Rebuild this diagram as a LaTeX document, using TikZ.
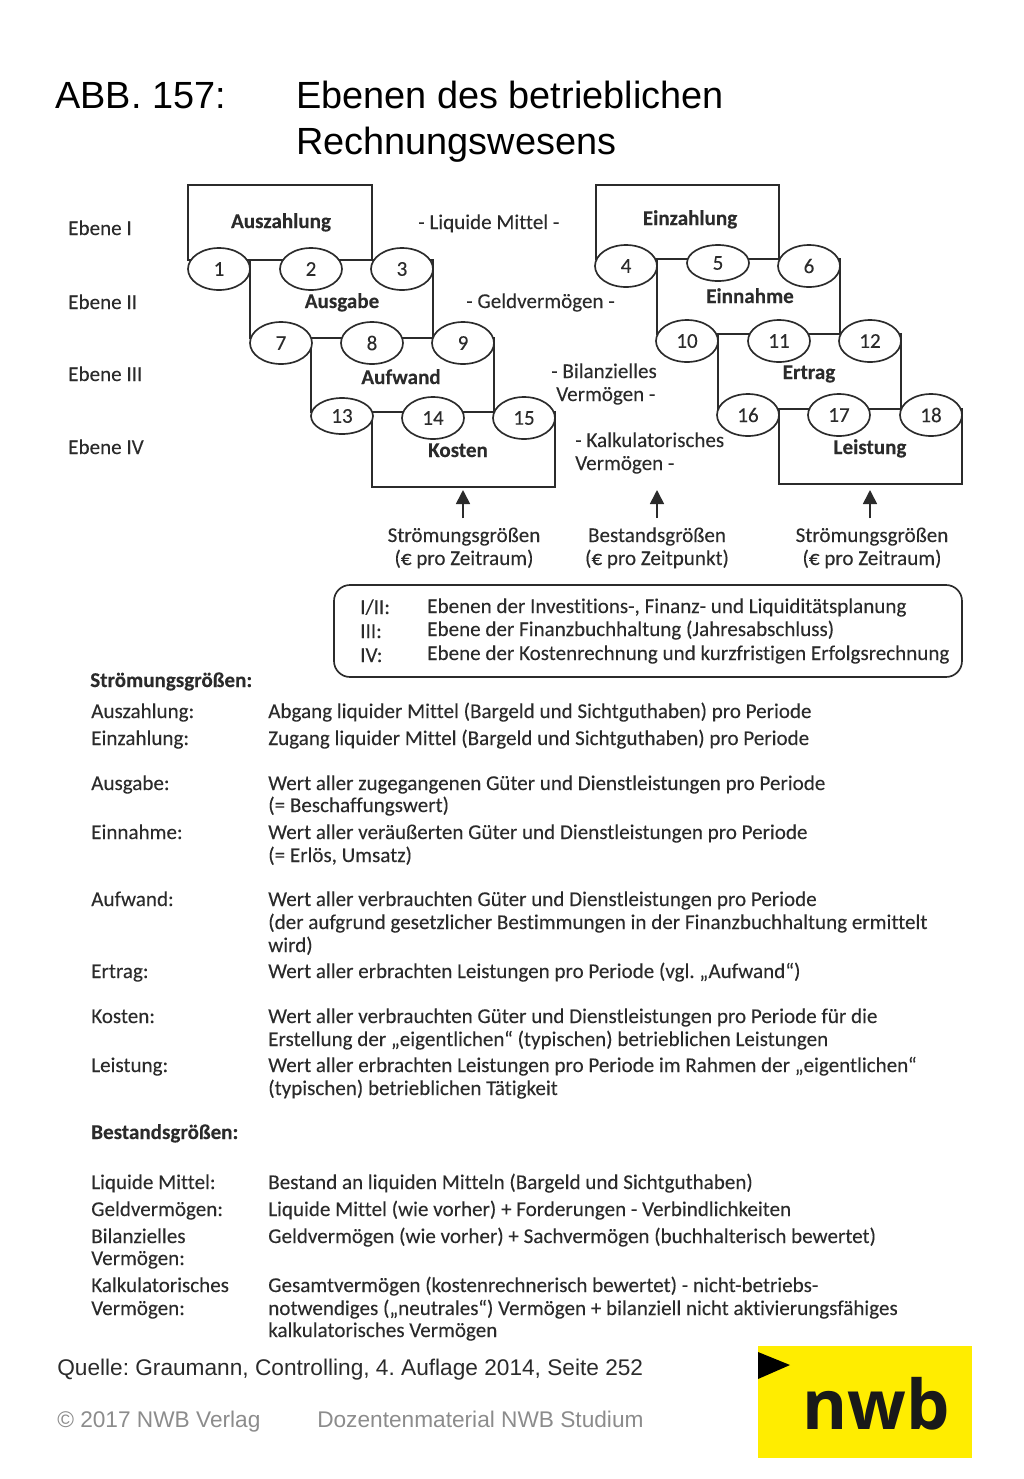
\documentclass[tikz,border=0pt]{standalone}
\usepackage{fontspec}
\setmainfont{Carlito}[Ligatures=NoCommon,FakeBold=0.12]
\newfontfamily\lib{Liberation Sans}
\newfontfamily\logofont{Open Sans}
\usetikzlibrary{fit,arrows.meta,shapes.geometric}
\definecolor{ink}{HTML}{2B2B2B}
\definecolor{grayfoot}{HTML}{8C8C8C}
\definecolor{nwbyellow}{HTML}{FFED00}
\newcounter{tcnt}
\tikzset{
  x=.75pt,y=-.75pt,
  wire/.style={draw=ink,line width=1.25pt},
  block/.style={wire,inner sep=0pt,rectangle},
  oval/.style={wire,ellipse,fill=white,inner sep=0pt,minimum width=46.5pt,minimum height=31.5pt,text=ink,font=\fontsize{15.8}{18}\selectfont},
  ovals/.style={oval,minimum height=27pt},
  txt/.style={anchor=base west,inner sep=0pt,text=ink,font=\fontsize{15.8}{18}\selectfont},
  mid/.style={anchor=base,inner sep=0pt,text=ink,font=\fontsize{15.8}{18}\selectfont},
  midb/.style={mid,font=\fontsize{15.8}{18}\selectfont\bfseries},
  arr/.style={draw=ink,line width=1.25pt,-{Triangle[length=10.5pt,width=10.5pt]}},
}
\newcommand{\tx}[3]{\stepcounter{tcnt}\node[txt] (t\arabic{tcnt}) at (#1,#2+1) {#3};}
\newcommand{\txb}[3]{\stepcounter{tcnt}\node[txt,font=\fontsize{15.8}{18}\selectfont\bfseries] (t\arabic{tcnt}) at (#1,#2+1) {#3};}
\begin{document}
\frenchspacing
\begin{tikzpicture}
\useasboundingbox (0,0) rectangle (1024,1479);
% title
\node[txt,font=\lib\fontsize{28.4}{32}\selectfont,text=black] (title1) at (55,108) {ABB. 157:};
\node[txt,font=\lib\fontsize{28.4}{32}\selectfont,text=black] (title2) at (296,108) {Ebenen des betrieblichen};
\node[txt,font=\lib\fontsize{28.4}{32}\selectfont,text=black] (title3) at (296,154) {Rechnungswesens};
% blocks
\node[block,fit={(188,185)(372,260)}] (bAus) {};
\node[block,fit={(250,260)(433,338)}] (bAusg) {};
\node[block,fit={(311,338)(494,412)}] (bAuf) {};
\node[block,fit={(372,412)(555,487)}] (bKos) {};
\node[block,fit={(596,185)(779,259)}] (bEin) {};
\node[block,fit={(657,259)(840,334)}] (bEinn) {};
\node[block,fit={(718,334)(901,409)}] (bErt) {};
\node[block,fit={(779,409)(962,484)}] (bLei) {};
% ovals
\node[oval] (n1) at (219,269) {1};
\node[oval] (n2) at (311,269) {2};
\node[oval] (n3) at (402,269) {3};
\node[oval] (n7) at (281,343) {7};
\node[oval] (n8) at (372,343) {8};
\node[oval] (n9) at (463,343) {9};
\node[ovals] (n13) at (342,416) {13};
\node[oval] (n14) at (433,418) {14};
\node[oval] (n15) at (524,418) {15};
\node[oval] (n4) at (626,266) {4};
\node[ovals] (n5) at (718,263) {5};
\node[oval] (n6) at (809,266) {6};
\node[oval] (n10) at (687,341) {10};
\node[oval] (n11) at (779,341) {11};
\node[oval] (n12) at (870,341) {12};
\node[oval] (n16) at (748,415) {16};
\node[oval] (n17) at (839,415) {17};
\node[oval] (n18) at (931,415) {18};
% block labels
\node[midb] (lAus) at (281,228) {Auszahlung};
\node[midb] (lAusg) at (342,308) {Ausgabe};
\node[midb] (lAuf) at (401,384) {Aufwand};
\node[midb] (lKos) at (458,457) {Kosten};
\node[midb] (lEin) at (690,225) {Einzahlung};
\node[midb] (lEinn) at (750,303) {Einnahme};
\node[midb] (lErt) at (809,379) {Ertrag};
\node[midb] (lLei) at (870,454) {Leistung};
% levels
\tx{68}{234}{Ebene I}
\tx{68}{308}{Ebene II}
\tx{68}{380}{Ebene III}
\tx{68}{453}{Ebene IV}
% stock labels
\tx{418}{228}{- Liquide Mittel -}
\tx{466}{307}{- Geldvermögen -}
\tx{551}{377}{- Bilanzielles}
\tx{556}{400}{Vermögen -}
\tx{575}{446}{- Kalkulatorisches}
\tx{575}{469}{Vermögen -}
% bottom labels and arrows
\node[mid] (s1) at (464,542) {Strömungsgrößen};
\node[mid] (s1b) at (464,565) {(€ pro Zeitraum)};
\node[mid] (s2) at (657,542) {Bestandsgrößen};
\node[mid] (s2b) at (657,565) {(€ pro Zeitpunkt)};
\node[mid] (s3) at (872,542) {Strömungsgrößen};
\node[mid] (s3b) at (872,565) {(€ pro Zeitraum)};
\coordinate (a1) at (463,490);
\coordinate (a2) at (657,490);
\coordinate (a3) at (870,490);
\draw[arr] (a1 |- s1.north) ++(0,-9) -- (a1);
\draw[arr] (a2 |- s2.north) ++(0,-9) -- (a2);
\draw[arr] (a3 |- s3.north) ++(0,-9) -- (a3);
% legend box
\node[wire,rectangle,rounded corners=12pt,inner sep=0pt,fit={(334,585)(962,677)}] (legend) {};
\tx{360}{613}{I/II:}
\tx{360}{637}{III:}
\tx{360}{661}{IV:}
\tx{427}{612}{Ebenen der Investitions-, Finanz- und Liquiditätsplanung}
\tx{427}{635}{Ebene der Finanzbuchhaltung (Jahresabschluss)}
\tx{427}{659}{Ebene der Kostenrechnung und kurzfristigen Erfolgsrechnung}
% definitions
\txb{90}{686}{Strömungsgrößen:}
\tx{91}{717}{Auszahlung:}
\tx{268}{717}{Abgang liquider Mittel (Bargeld und Sichtguthaben) pro Periode}
\tx{91}{744}{Einzahlung:}
\tx{268}{744}{Zugang liquider Mittel (Bargeld und Sichtguthaben) pro Periode}
\tx{91}{789}{Ausgabe:}
\tx{268}{789}{Wert aller zugegangenen Güter und Dienstleistungen pro Periode}
\tx{268}{811}{(= Beschaffungswert)}
\tx{91}{838}{Einnahme:}
\tx{268}{838}{Wert aller veräußerten Güter und Dienstleistungen pro Periode}
\tx{268}{861}{(= Erlös, Umsatz)}
\tx{91}{905}{Aufwand:}
\tx{268}{905}{Wert aller verbrauchten Güter und Dienstleistungen pro Periode}
\tx{268}{928}{(der aufgrund gesetzlicher Bestimmungen in der Finanzbuchhaltung ermittelt}
\tx{268}{951}{wird)}
\tx{91}{977}{Ertrag:}
\tx{268}{977}{Wert aller erbrachten Leistungen pro Periode (vgl. „Aufwand“)}
\tx{91}{1022}{Kosten:}
\tx{268}{1022}{Wert aller verbrauchten Güter und Dienstleistungen pro Periode für die}
\tx{268}{1045}{Erstellung der „eigentlichen“ (typischen) betrieblichen Leistungen}
\tx{91}{1071}{Leistung:}
\tx{268}{1071}{Wert aller erbrachten Leistungen pro Periode im Rahmen der „eigentlichen“}
\tx{268}{1094}{(typischen) betrieblichen Tätigkeit}
\txb{91}{1138}{Bestandsgrößen:}
\tx{91}{1188}{Liquide Mittel:}
\tx{268}{1188}{Bestand an liquiden Mitteln (Bargeld und Sichtguthaben)}
\tx{91}{1215}{Geldvermögen:}
\tx{268}{1215}{Liquide Mittel (wie vorher) + Forderungen - Verbindlichkeiten}
\tx{91}{1242}{Bilanzielles}
\tx{91}{1264}{Vermögen:}
\tx{268}{1242}{Geldvermögen (wie vorher) + Sachvermögen (buchhalterisch bewertet)}
\tx{91}{1291}{Kalkulatorisches}
\tx{91}{1314}{Vermögen:}
\tx{268}{1291}{Gesamtvermögen (kostenrechnerisch bewertet) - nicht-betriebs-}
\tx{268}{1314}{notwendiges („neutrales“) Vermögen + bilanziell nicht aktivierungsfähiges}
\tx{268}{1336}{kalkulatorisches Vermögen}
% footer
\node[txt,font=\lib\fontsize{17}{20}\selectfont,text=ink] (src) at (57,1375) {Quelle: Graumann, Controlling, 4. Auflage 2014, Seite 252};
\node[txt,font=\lib\fontsize{17}{20}\selectfont,text=grayfoot] (foot1) at (57,1427) {© 2017 NWB Verlag};
\node[txt,font=\lib\fontsize{17}{20}\selectfont,text=grayfoot] (foot2) at (317,1427) {Dozentenmaterial NWB Studium};
% logo
\fill[nwbyellow] (758,1346) rectangle (972,1458);
\fill[black] (758,1352) -- (790,1365) -- (758,1379) -- cycle;
\node[txt,font=\logofont\bfseries\fontsize{51.5}{56}\selectfont,text=black!90] (logo) at (802,1429) {nwb};
\end{tikzpicture}
\end{document}
